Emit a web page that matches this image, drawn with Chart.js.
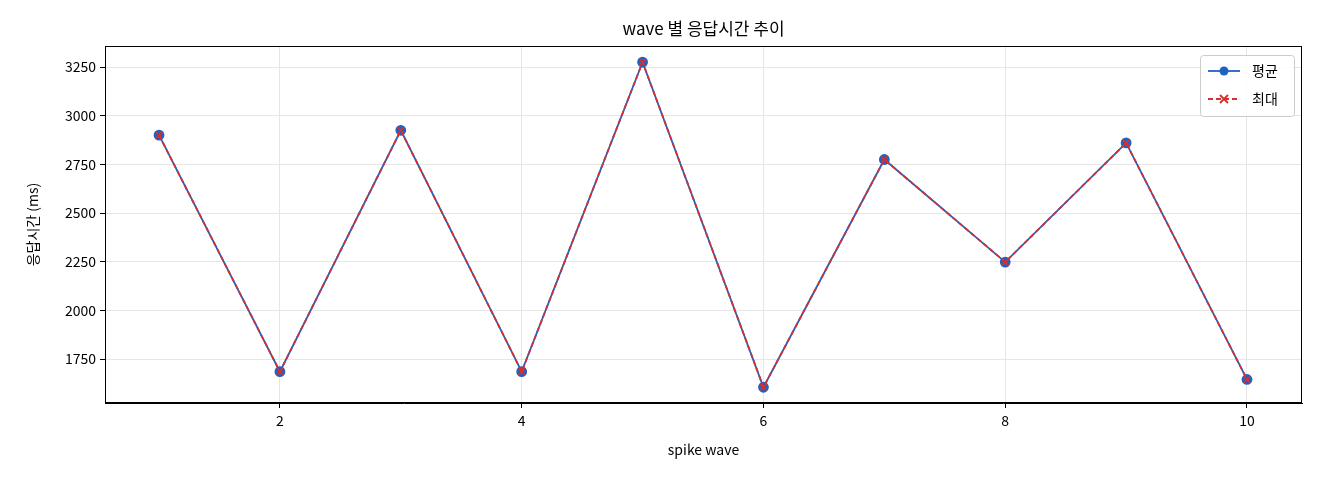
<!DOCTYPE html>
<html><head><meta charset="utf-8">
<script src="https://cdn.jsdelivr.net/npm/chart.js@4"></script>
<style>html,body{margin:0;background:#fff}#w{width:1320px;height:480px}</style>
</head><body><div id="w"><canvas id="c"></canvas></div>
<script>
const waves=[1,2,3,4,5,6,7,8,9,10];
const avgMs=[2900,1685,2925,1685,3275,1605,2775,2248,2860,1645];
const maxMs=[2900,1685,2925,1685,3275,1605,2775,2248,2860,1645];
const xTicks=[2,4,6,8,10];
const yTicks=[1750,2000,2250,2500,2750,3000,3250];
const F="'Noto Sans CJK KR','Noto Sans',sans-serif";
const BLUE='#1f62c0',RED='#d62f2f';
const extras={id:'extras',afterDraw(ch){
 const c=ch.ctx,a=ch.chartArea;
 c.save();
 c.strokeStyle='#000';c.lineWidth=1;c.strokeRect(a.left+0.5,a.top+0.5,a.right-a.left-1,a.bottom-a.top-1);
 c.fillStyle='#000';c.font='17px '+F;c.textAlign='center';c.textBaseline='middle';
 c.fillText('wave 별 응답시간 추이',(a.left+a.right)/2,29);
 const lx=1200,ly=55,lw=94,lh=61;
 c.fillStyle='rgba(255,255,255,0.85)';c.strokeStyle='#ccc';
 c.beginPath();c.roundRect(lx+0.5,ly+0.5,lw,lh,3);c.fill();c.stroke();
 c.lineWidth=1.8;c.strokeStyle=BLUE;c.beginPath();c.moveTo(lx+8,ly+16);c.lineTo(lx+40,ly+16);c.stroke();
 c.fillStyle=BLUE;c.beginPath();c.arc(lx+24,ly+16,4.5,0,Math.PI*2);c.fill();
 c.strokeStyle=RED;c.setLineDash([5,3]);c.beginPath();c.moveTo(lx+8,ly+44);c.lineTo(lx+40,ly+44);c.stroke();
 c.setLineDash([]);c.beginPath();c.moveTo(lx+20,ly+40);c.lineTo(lx+28,ly+48);c.moveTo(lx+28,ly+40);c.lineTo(lx+20,ly+48);c.stroke();
 c.fillStyle='#000';c.font='14px '+F;c.textAlign='left';
 c.fillText('평균',lx+52,ly+16);c.fillText('최대',lx+52,ly+44);
 c.restore();
}};
new Chart(document.getElementById('c'),{
 type:'line',
 data:{datasets:[
  {label:'평균',data:waves.map((x,i)=>({x,y:avgMs[i]})),borderColor:BLUE,backgroundColor:BLUE,borderWidth:1.8,pointRadius:4.5,pointStyle:'circle',order:2},
  {label:'최대',data:waves.map((x,i)=>({x,y:maxMs[i]})),borderColor:RED,backgroundColor:RED,borderWidth:1.8,borderDash:[5,3],pointRadius:4.5,pointStyle:'crossRot',pointBorderWidth:1.8,order:1}
 ]},
 plugins:[extras],
 options:{responsive:true,maintainAspectRatio:false,animation:false,
  layout:{padding:{top:46,right:18,left:20,bottom:18}},
  plugins:{legend:{display:false},title:{display:false},tooltip:{enabled:false}},
  scales:{
   x:{type:'linear',min:0.553,max:10.455,
    afterBuildTicks:s=>{s.ticks=xTicks.map(v=>({value:v}))},
    afterFit:s=>{s.height=59},
    grid:{color:'#e6e6e6',tickLength:5,tickColor:'#000'},border:{color:'#000',width:1},
    ticks:{color:'#000',font:{family:F,size:14},padding:4,maxRotation:0},
    title:{display:true,text:'spike wave',color:'#000',font:{family:F,size:14},padding:{top:4}}},
   y:{min:1524,max:3358,
    afterBuildTicks:s=>{s.ticks=yTicks.map(v=>({value:v}))},
    afterFit:s=>{s.width=85},
    grid:{color:'#e6e6e6',tickLength:5,tickColor:'#000'},border:{color:'#000',width:1},
    ticks:{color:'#000',font:{family:F,size:14},padding:4,callback:v=>String(v)},
    title:{display:true,text:'응답시간 (ms)',color:'#000',font:{family:F,size:14},padding:{bottom:4}}}
  }}
});
</script></body></html>
